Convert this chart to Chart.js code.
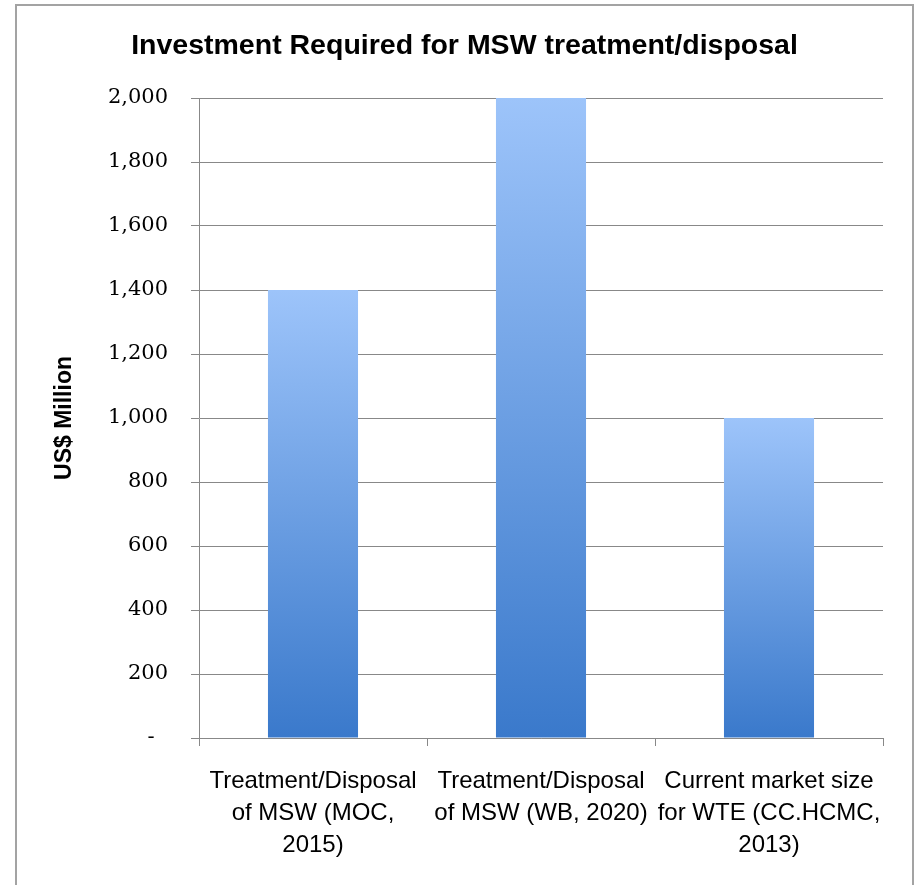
<!DOCTYPE html>
<html>
<head>
<meta charset="utf-8">
<script src="https://cdn.jsdelivr.net/npm/chart.js@4"></script>
<style>
  html, body { margin: 0; padding: 0; background: #ffffff; overflow: hidden; }
  #frame { position: absolute; left: 15px; top: 4px; width: 899px; height: 1000px; box-sizing: border-box; border: 2px solid #a3a3a3; }
  #wrap { position: absolute; left: 0; top: 0; width: 916px; height: 885px; }
</style>
</head>
<body>
<div id="frame"></div>
<div id="wrap"><canvas id="c"></canvas></div>
<script>
const chartTitle = 'Investment Required for MSW treatment/disposal';
const yAxisTitle = 'US$ Million';
const categories = [
  ['Treatment/Disposal', 'of MSW (MOC,', '2015)'],
  ['Treatment/Disposal', 'of MSW (WB, 2020)'],
  ['Current market size', 'for WTE (CC.HCMC,', '2013)']
];
const investment = [1400, 2000, 1000];
const yTickValues = [0, 200, 400, 600, 800, 1000, 1200, 1400, 1600, 1800, 2000];
const yTickLabels = ['-  ', '200', '400', '600', '800', '1,000', '1,200', '1,400', '1,600', '1,800', '2,000'];

function barGradient(ctx) {
  const chart = ctx.chart;
  if (!chart.chartArea || !chart.scales.y) return '#6a9be0';
  const v = ctx.raw;
  const yScale = chart.scales.y;
  const top = yScale.getPixelForValue(v);
  const bottom = yScale.getPixelForValue(0);
  const g = chart.ctx.createLinearGradient(0, top, 0, bottom);
  g.addColorStop(0, '#9dc4fa');
  g.addColorStop(1, '#3a79cb');
  return g;
}

const gridColor = '#888888';

new Chart(document.getElementById('c'), {
  type: 'bar',
  data: {
    labels: categories,
    datasets: [{
      data: investment,
      backgroundColor: barGradient,
      borderWidth: 0,
      categoryPercentage: 1.0,
      barPercentage: 0.395
    }]
  },
  options: {
    responsive: true,
    maintainAspectRatio: false,
    animation: false,
    layout: { padding: { left: 16, right: 3, top: 5, bottom: 0 } },
    plugins: {
      legend: { display: false },
      tooltip: { enabled: false },
      title: {
        display: true,
        text: chartTitle,
        color: '#000000',
        font: { family: '"Liberation Sans", Arial, sans-serif', size: 28.5, weight: 'bold', lineHeight: 1.2 },
        padding: { top: 24, bottom: 34.8 }
      }
    },
    scales: {
      x: {
        grid: { display: true, drawOnChartArea: false, offset: true, color: gridColor, tickLength: 8, lineWidth: 1 },
        border: { display: true, color: gridColor, width: 1 },
        ticks: {
          color: '#000000',
          padding: 19,
          maxRotation: 0,
          autoSkip: false,
          font: { family: '"Liberation Sans", Arial, sans-serif', size: 24, lineHeight: 1.333 }
        },
        afterFit: (s) => { s.height = 147; }
      },
      y: {
        min: 0,
        max: 2000,
        afterBuildTicks: (s) => { s.ticks = yTickValues.map(v => ({ value: v })); },
        grid: { color: gridColor, tickLength: 8, lineWidth: 1 },
        border: { display: true, color: gridColor, width: 1 },
        ticks: {
          color: '#000000',
          padding: 23,
          font: { family: '"DejaVu Serif", serif', size: 21 },
          callback: (value) => {
            const i = yTickValues.indexOf(value);
            return i >= 0 ? yTickLabels[i] : '';
          }
        },
        title: {
          display: true,
          text: yAxisTitle,
          color: '#000000',
          font: { family: '"Liberation Sans", Arial, sans-serif', size: 23, weight: 'bold', lineHeight: 1.2 },
          padding: { top: 35, bottom: 0 }
        },
        afterFit: (s) => { s.width = 183; }
      },
      yR: {
        type: 'linear',
        position: 'right',
        display: true,
        grid: { display: false },
        border: { display: false },
        ticks: { display: false },
        afterFit: (s) => { s.width = 30; }
      }
    }
  }
});
</script>
</body>
</html>
